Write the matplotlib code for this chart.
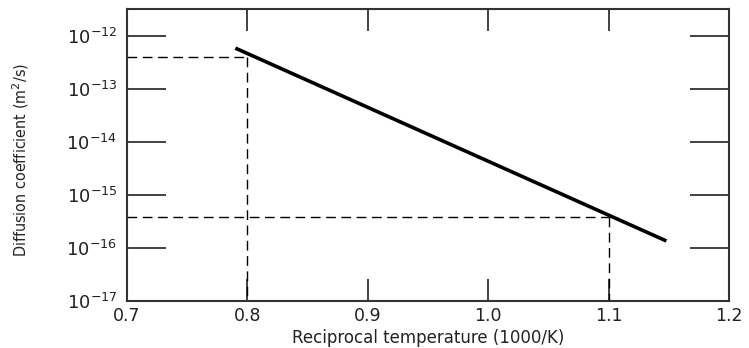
import numpy as np
import matplotlib
matplotlib.use('Agg')
from matplotlib import pyplot as plt
from matplotlib.ticker import FixedLocator, NullLocator

# Data
line_x = [0.79, 1.148]
line_d = [5.8e-13, 1.35e-16]
marked_x = [0.8, 1.1]
marked_d = [4.0e-13, 3.8e-16]

x_ticks = [0.7, 0.8, 0.9, 1.0, 1.1, 1.2]
x_labels = ['0.7', '0.8', '0.9', '1.0', '1.1', '1.2']
y_exps = [-17, -16, -15, -14, -13, -12]

axis_col = '#333333'
plt.rcParams['mathtext.fontset'] = 'dejavusans'

fig = plt.figure(figsize=(7.49, 3.48), dpi=100)
ax = fig.add_axes([127 / 749, 1 - 301 / 348, (729 - 127) / 749, (301 - 9) / 348])

ax.set_yscale('log')
ax.set_xlim(0.7, 1.2)
ax.set_ylim(1e-17, 10 ** -11.5)

# dashed guide lines
for xv, dv in zip(marked_x, marked_d):
    ax.plot([0.7, xv], [dv, dv], color='black', lw=1.0, ls=(0, (7, 4)))
    ax.plot([xv, xv], [dv, 1e-17], color='black', lw=1.0, ls=(0, (7, 4)))

# main line
ax.plot(line_x, line_d, color='black', lw=2.6, solid_capstyle='butt')

ax.xaxis.set_major_locator(FixedLocator(x_ticks))
ax.set_xticklabels(x_labels)
ax.xaxis.set_minor_locator(NullLocator())
ax.yaxis.set_major_locator(FixedLocator([10.0 ** e for e in y_exps]))
ax.set_yticklabels(['$10^{%d}$' % e for e in y_exps])
ax.yaxis.set_minor_locator(NullLocator())

ax.tick_params(axis='x', which='major', direction='in', length=16, width=1.3,
               top=True, color=axis_col, labelsize=12.5, pad=4)
ax.tick_params(axis='y', which='major', direction='in', length=28, width=1.3,
               right=True, color=axis_col, labelsize=13, pad=7)
for lab in ax.get_xticklabels() + ax.get_yticklabels():
    lab.set_color('#222222')

for sp in ax.spines.values():
    sp.set_color(axis_col)
    sp.set_linewidth(1.5)

fig.text(428 / 749, 1 - 338 / 348, 'Reciprocal temperature (1000/K)', ha='center',
         va='center', fontsize=12, color='#222222')
fig.text(21 / 749, 1 - 160 / 348, 'Diffusion coefficient (m$^2$/s)', rotation=90,
         ha='center', va='center', fontsize=11.5, color='#222222',
         family='DejaVu Sans', stretch='condensed')

fig.savefig('out.png', dpi=100)
